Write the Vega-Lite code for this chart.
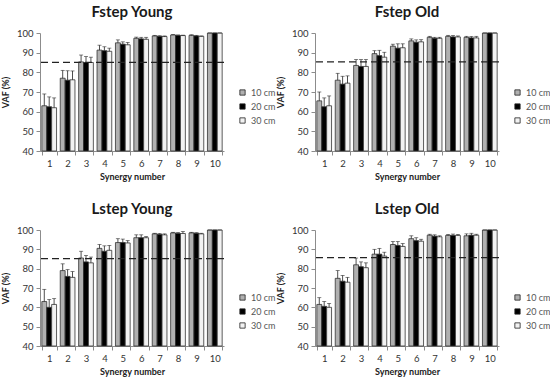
{
  "$schema": "https://vega.github.io/schema/vega-lite/v6.json",
  "background": "white",
  "padding": {"left": 1, "top": 5, "right": 0, "bottom": 0},
  "datasets": {
    "vaf": [
      {"panel": "FY", "syn": "1", "dist": "10 cm", "vaf": 63, "hi": 69},
      {"panel": "FY", "syn": "1", "dist": "20 cm", "vaf": 62.5, "hi": 67.5},
      {"panel": "FY", "syn": "1", "dist": "30 cm", "vaf": 62, "hi": 67},
      {"panel": "FY", "syn": "2", "dist": "10 cm", "vaf": 77, "hi": 81},
      {"panel": "FY", "syn": "2", "dist": "20 cm", "vaf": 76, "hi": 80.8},
      {"panel": "FY", "syn": "2", "dist": "30 cm", "vaf": 76.2, "hi": 80.7},
      {"panel": "FY", "syn": "3", "dist": "10 cm", "vaf": 85.3, "hi": 88.8},
      {"panel": "FY", "syn": "3", "dist": "20 cm", "vaf": 85, "hi": 88},
      {"panel": "FY", "syn": "3", "dist": "30 cm", "vaf": 85, "hi": 87.7},
      {"panel": "FY", "syn": "4", "dist": "10 cm", "vaf": 91.3, "hi": 93.8},
      {"panel": "FY", "syn": "4", "dist": "20 cm", "vaf": 91, "hi": 93},
      {"panel": "FY", "syn": "4", "dist": "30 cm", "vaf": 90.7, "hi": 92.3},
      {"panel": "FY", "syn": "5", "dist": "10 cm", "vaf": 95, "hi": 96.5},
      {"panel": "FY", "syn": "5", "dist": "20 cm", "vaf": 94.3, "hi": 95.5},
      {"panel": "FY", "syn": "5", "dist": "30 cm", "vaf": 94, "hi": 95.2},
      {"panel": "FY", "syn": "6", "dist": "10 cm", "vaf": 97.3, "hi": 97.9},
      {"panel": "FY", "syn": "6", "dist": "20 cm", "vaf": 97, "hi": 97.8},
      {"panel": "FY", "syn": "6", "dist": "30 cm", "vaf": 96.8, "hi": 97.8},
      {"panel": "FY", "syn": "7", "dist": "10 cm", "vaf": 98.5, "hi": 98.8},
      {"panel": "FY", "syn": "7", "dist": "20 cm", "vaf": 98.3, "hi": 98.6},
      {"panel": "FY", "syn": "7", "dist": "30 cm", "vaf": 98.2, "hi": 98.5},
      {"panel": "FY", "syn": "8", "dist": "10 cm", "vaf": 99, "hi": 99.2},
      {"panel": "FY", "syn": "8", "dist": "20 cm", "vaf": 98.8, "hi": 99},
      {"panel": "FY", "syn": "8", "dist": "30 cm", "vaf": 98.7, "hi": 98.9},
      {"panel": "FY", "syn": "9", "dist": "10 cm", "vaf": 98.8, "hi": 99.1},
      {"panel": "FY", "syn": "9", "dist": "20 cm", "vaf": 98.5, "hi": 98.8},
      {"panel": "FY", "syn": "9", "dist": "30 cm", "vaf": 98.3, "hi": 98.5},
      {"panel": "FY", "syn": "10", "dist": "10 cm", "vaf": 100, "hi": 100},
      {"panel": "FY", "syn": "10", "dist": "20 cm", "vaf": 100, "hi": 100},
      {"panel": "FY", "syn": "10", "dist": "30 cm", "vaf": 100, "hi": 100},

      {"panel": "FO", "syn": "1", "dist": "10 cm", "vaf": 65.5, "hi": 70},
      {"panel": "FO", "syn": "1", "dist": "20 cm", "vaf": 62.5, "hi": 67},
      {"panel": "FO", "syn": "1", "dist": "30 cm", "vaf": 63, "hi": 68},
      {"panel": "FO", "syn": "2", "dist": "10 cm", "vaf": 76, "hi": 79.5},
      {"panel": "FO", "syn": "2", "dist": "20 cm", "vaf": 74, "hi": 78},
      {"panel": "FO", "syn": "2", "dist": "30 cm", "vaf": 74.5, "hi": 78.2},
      {"panel": "FO", "syn": "3", "dist": "10 cm", "vaf": 83.5, "hi": 86.5},
      {"panel": "FO", "syn": "3", "dist": "20 cm", "vaf": 83, "hi": 86.5},
      {"panel": "FO", "syn": "3", "dist": "30 cm", "vaf": 83, "hi": 86.5},
      {"panel": "FO", "syn": "4", "dist": "10 cm", "vaf": 89.5, "hi": 91},
      {"panel": "FO", "syn": "4", "dist": "20 cm", "vaf": 88.5, "hi": 91.2},
      {"panel": "FO", "syn": "4", "dist": "30 cm", "vaf": 87.7, "hi": 90.2},
      {"panel": "FO", "syn": "5", "dist": "10 cm", "vaf": 93.3, "hi": 94.3},
      {"panel": "FO", "syn": "5", "dist": "20 cm", "vaf": 92.3, "hi": 94.5},
      {"panel": "FO", "syn": "5", "dist": "30 cm", "vaf": 92.5, "hi": 94.5},
      {"panel": "FO", "syn": "6", "dist": "10 cm", "vaf": 96, "hi": 97},
      {"panel": "FO", "syn": "6", "dist": "20 cm", "vaf": 95.3, "hi": 96.5},
      {"panel": "FO", "syn": "6", "dist": "30 cm", "vaf": 95.5, "hi": 96.6},
      {"panel": "FO", "syn": "7", "dist": "10 cm", "vaf": 97.8, "hi": 98.3},
      {"panel": "FO", "syn": "7", "dist": "20 cm", "vaf": 97.3, "hi": 97.8},
      {"panel": "FO", "syn": "7", "dist": "30 cm", "vaf": 97.3, "hi": 97.8},
      {"panel": "FO", "syn": "8", "dist": "10 cm", "vaf": 98.3, "hi": 98.8},
      {"panel": "FO", "syn": "8", "dist": "20 cm", "vaf": 98, "hi": 98.7},
      {"panel": "FO", "syn": "8", "dist": "30 cm", "vaf": 98, "hi": 98.5},
      {"panel": "FO", "syn": "9", "dist": "10 cm", "vaf": 97.8, "hi": 98.3},
      {"panel": "FO", "syn": "9", "dist": "20 cm", "vaf": 97.5, "hi": 98.2},
      {"panel": "FO", "syn": "9", "dist": "30 cm", "vaf": 97.5, "hi": 98.3},
      {"panel": "FO", "syn": "10", "dist": "10 cm", "vaf": 100, "hi": 100},
      {"panel": "FO", "syn": "10", "dist": "20 cm", "vaf": 100, "hi": 100},
      {"panel": "FO", "syn": "10", "dist": "30 cm", "vaf": 100, "hi": 100},

      {"panel": "LY", "syn": "1", "dist": "10 cm", "vaf": 63, "hi": 69.3},
      {"panel": "LY", "syn": "1", "dist": "20 cm", "vaf": 60, "hi": 64},
      {"panel": "LY", "syn": "1", "dist": "30 cm", "vaf": 61.5, "hi": 64.5},
      {"panel": "LY", "syn": "2", "dist": "10 cm", "vaf": 79, "hi": 82.5},
      {"panel": "LY", "syn": "2", "dist": "20 cm", "vaf": 76, "hi": 79.5},
      {"panel": "LY", "syn": "2", "dist": "30 cm", "vaf": 75.5, "hi": 78.5},
      {"panel": "LY", "syn": "3", "dist": "10 cm", "vaf": 85.5, "hi": 89},
      {"panel": "LY", "syn": "3", "dist": "20 cm", "vaf": 83.5, "hi": 86.8},
      {"panel": "LY", "syn": "3", "dist": "30 cm", "vaf": 83, "hi": 86},
      {"panel": "LY", "syn": "4", "dist": "10 cm", "vaf": 90.5, "hi": 92.5},
      {"panel": "LY", "syn": "4", "dist": "20 cm", "vaf": 89, "hi": 91.8},
      {"panel": "LY", "syn": "4", "dist": "30 cm", "vaf": 89.5, "hi": 92},
      {"panel": "LY", "syn": "5", "dist": "10 cm", "vaf": 93.5, "hi": 95.5},
      {"panel": "LY", "syn": "5", "dist": "20 cm", "vaf": 93.5, "hi": 95.3},
      {"panel": "LY", "syn": "5", "dist": "30 cm", "vaf": 93.3, "hi": 94.5},
      {"panel": "LY", "syn": "6", "dist": "10 cm", "vaf": 96, "hi": 97.5},
      {"panel": "LY", "syn": "6", "dist": "20 cm", "vaf": 96, "hi": 97.5},
      {"panel": "LY", "syn": "6", "dist": "30 cm", "vaf": 96, "hi": 96.6},
      {"panel": "LY", "syn": "7", "dist": "10 cm", "vaf": 98, "hi": 98.3},
      {"panel": "LY", "syn": "7", "dist": "20 cm", "vaf": 97.7, "hi": 98.2},
      {"panel": "LY", "syn": "7", "dist": "30 cm", "vaf": 97.5, "hi": 98},
      {"panel": "LY", "syn": "8", "dist": "10 cm", "vaf": 98.5, "hi": 98.8},
      {"panel": "LY", "syn": "8", "dist": "20 cm", "vaf": 98.2, "hi": 98.7},
      {"panel": "LY", "syn": "8", "dist": "30 cm", "vaf": 98.2, "hi": 99.2},
      {"panel": "LY", "syn": "9", "dist": "10 cm", "vaf": 98.5, "hi": 98.8},
      {"panel": "LY", "syn": "9", "dist": "20 cm", "vaf": 98.3, "hi": 98.6},
      {"panel": "LY", "syn": "9", "dist": "30 cm", "vaf": 98, "hi": 98.3},
      {"panel": "LY", "syn": "10", "dist": "10 cm", "vaf": 100, "hi": 100},
      {"panel": "LY", "syn": "10", "dist": "20 cm", "vaf": 100, "hi": 100},
      {"panel": "LY", "syn": "10", "dist": "30 cm", "vaf": 100, "hi": 100},

      {"panel": "LO", "syn": "1", "dist": "10 cm", "vaf": 61.5, "hi": 65},
      {"panel": "LO", "syn": "1", "dist": "20 cm", "vaf": 60.5, "hi": 63},
      {"panel": "LO", "syn": "1", "dist": "30 cm", "vaf": 60, "hi": 62},
      {"panel": "LO", "syn": "2", "dist": "10 cm", "vaf": 75, "hi": 79},
      {"panel": "LO", "syn": "2", "dist": "20 cm", "vaf": 73.5, "hi": 76.5},
      {"panel": "LO", "syn": "2", "dist": "30 cm", "vaf": 73, "hi": 75.5},
      {"panel": "LO", "syn": "3", "dist": "10 cm", "vaf": 82, "hi": 85.5},
      {"panel": "LO", "syn": "3", "dist": "20 cm", "vaf": 81, "hi": 83.5},
      {"panel": "LO", "syn": "3", "dist": "30 cm", "vaf": 80.5, "hi": 83},
      {"panel": "LO", "syn": "4", "dist": "10 cm", "vaf": 87.5, "hi": 90},
      {"panel": "LO", "syn": "4", "dist": "20 cm", "vaf": 87.5, "hi": 90.5},
      {"panel": "LO", "syn": "4", "dist": "30 cm", "vaf": 86.5, "hi": 88.5},
      {"panel": "LO", "syn": "5", "dist": "10 cm", "vaf": 92.5, "hi": 94},
      {"panel": "LO", "syn": "5", "dist": "20 cm", "vaf": 92, "hi": 94},
      {"panel": "LO", "syn": "5", "dist": "30 cm", "vaf": 91.5, "hi": 93},
      {"panel": "LO", "syn": "6", "dist": "10 cm", "vaf": 95.5, "hi": 97},
      {"panel": "LO", "syn": "6", "dist": "20 cm", "vaf": 94.5, "hi": 96},
      {"panel": "LO", "syn": "6", "dist": "30 cm", "vaf": 94.2, "hi": 95.2},
      {"panel": "LO", "syn": "7", "dist": "10 cm", "vaf": 97.3, "hi": 97.8},
      {"panel": "LO", "syn": "7", "dist": "20 cm", "vaf": 96.8, "hi": 97.5},
      {"panel": "LO", "syn": "7", "dist": "30 cm", "vaf": 96.5, "hi": 97},
      {"panel": "LO", "syn": "8", "dist": "10 cm", "vaf": 97.2, "hi": 97.7},
      {"panel": "LO", "syn": "8", "dist": "20 cm", "vaf": 97.2, "hi": 97.9},
      {"panel": "LO", "syn": "8", "dist": "30 cm", "vaf": 97.2, "hi": 97.7},
      {"panel": "LO", "syn": "9", "dist": "10 cm", "vaf": 97, "hi": 98},
      {"panel": "LO", "syn": "9", "dist": "20 cm", "vaf": 97.3, "hi": 98.3},
      {"panel": "LO", "syn": "9", "dist": "30 cm", "vaf": 97.3, "hi": 97.8},
      {"panel": "LO", "syn": "10", "dist": "10 cm", "vaf": 100, "hi": 100},
      {"panel": "LO", "syn": "10", "dist": "20 cm", "vaf": 100, "hi": 100},
      {"panel": "LO", "syn": "10", "dist": "30 cm", "vaf": 100, "hi": 100}
    ]
  },
  "vconcat": [
    {
      "resolve": {"scale": {"fill": "independent"}, "legend": {"fill": "independent"}},
      "bounds": "flush",
      "spacing": 91,
      "hconcat": [
        {
          "title": "Fstep Young",
          "width": 184, "height": 118,
          "data": {"name": "vaf"},
          "transform": [{"filter": "datum.panel === 'FY'"}],
          "encoding": {
            "x": {"field": "syn", "type": "ordinal", "sort": ["1","2","3","4","5","6","7","8","9","10"], "title": "Synergy number", "scale": {"paddingInner": 0.2, "paddingOuter": 0.1}, "axis": {"labelAngle": 0, "tickBand": "extent"}},
            "xOffset": {"field": "dist", "type": "nominal"}
          },
          "layer": [
            {"mark": {"type": "bar", "stroke": "#333333", "strokeWidth": 0.8},
             "encoding": {
               "y": {"field": "vaf", "type": "quantitative", "scale": {"domain": [40, 100], "zero": false, "nice": false}, "title": "VAF (%)", "axis": {"tickCount": 6, "labelOverlap": false}},
               "y2": {"datum": 40},
               "fill": {"field": "dist", "type": "nominal", "scale": {"domain": ["10 cm","20 cm","30 cm"], "range": ["#b0b0b0","#000000","#f2f2f2"]}, "legend": {"title": null, "orient": "none", "legendX": 198, "legendY": 55}}
             }},
            {"mark": {"type": "rule", "color": "#222222", "strokeWidth": 0.8},
             "encoding": {"y": {"field": "vaf", "type": "quantitative"}, "y2": {"field": "hi"}}},
            {"mark": {"type": "tick", "color": "#222222", "thickness": 0.8, "size": 4, "orient": "horizontal"},
             "encoding": {"y": {"field": "hi", "type": "quantitative"}}},
            {"data": {"values": [{"t": 85.1}]}, "mark": {"type": "rule", "color": "#222222", "strokeWidth": 1.2, "strokeDash": [7, 4]},
             "encoding": {"x": null, "xOffset": null, "y": {"field": "t", "type": "quantitative"}}}
          ]
        },
        {
          "title": "Fstep Old",
          "width": 184, "height": 118,
          "data": {"name": "vaf"},
          "transform": [{"filter": "datum.panel === 'FO'"}],
          "encoding": {
            "x": {"field": "syn", "type": "ordinal", "sort": ["1","2","3","4","5","6","7","8","9","10"], "title": "Synergy number", "scale": {"paddingInner": 0.2, "paddingOuter": 0.1}, "axis": {"labelAngle": 0, "tickBand": "extent"}},
            "xOffset": {"field": "dist", "type": "nominal"}
          },
          "layer": [
            {"mark": {"type": "bar", "stroke": "#333333", "strokeWidth": 0.8},
             "encoding": {
               "y": {"field": "vaf", "type": "quantitative", "scale": {"domain": [40, 100], "zero": false, "nice": false}, "title": "VAF (%)", "axis": {"tickCount": 6, "labelOverlap": false}},
               "y2": {"datum": 40},
               "fill": {"field": "dist", "type": "nominal", "scale": {"domain": ["10 cm","20 cm","30 cm"], "range": ["#b0b0b0","#000000","#f2f2f2"]}, "legend": {"title": null, "orient": "none", "legendX": 198, "legendY": 55}}
             }},
            {"mark": {"type": "rule", "color": "#222222", "strokeWidth": 0.8},
             "encoding": {"y": {"field": "vaf", "type": "quantitative"}, "y2": {"field": "hi"}}},
            {"mark": {"type": "tick", "color": "#222222", "thickness": 0.8, "size": 4, "orient": "horizontal"},
             "encoding": {"y": {"field": "hi", "type": "quantitative"}}},
            {"data": {"values": [{"t": 85.3}]}, "mark": {"type": "rule", "color": "#222222", "strokeWidth": 1.2, "strokeDash": [7, 4]},
             "encoding": {"x": null, "xOffset": null, "y": {"field": "t", "type": "quantitative"}}}
          ]
        }
      ]
    },
    {
      "resolve": {"scale": {"fill": "independent"}, "legend": {"fill": "independent"}},
      "bounds": "flush",
      "spacing": 91,
      "hconcat": [
        {
          "title": "Lstep Young",
          "width": 184, "height": 116,
          "data": {"name": "vaf"},
          "transform": [{"filter": "datum.panel === 'LY'"}],
          "encoding": {
            "x": {"field": "syn", "type": "ordinal", "sort": ["1","2","3","4","5","6","7","8","9","10"], "title": "Synergy number", "scale": {"paddingInner": 0.2, "paddingOuter": 0.1}, "axis": {"labelAngle": 0, "tickBand": "extent"}},
            "xOffset": {"field": "dist", "type": "nominal"}
          },
          "layer": [
            {"mark": {"type": "bar", "stroke": "#333333", "strokeWidth": 0.8},
             "encoding": {
               "y": {"field": "vaf", "type": "quantitative", "scale": {"domain": [40, 100], "zero": false, "nice": false}, "title": "VAF (%)", "axis": {"tickCount": 6, "labelOverlap": false}},
               "y2": {"datum": 40},
               "fill": {"field": "dist", "type": "nominal", "scale": {"domain": ["10 cm","20 cm","30 cm"], "range": ["#b0b0b0","#000000","#f2f2f2"]}, "legend": {"title": null, "orient": "none", "legendX": 198, "legendY": 63}}
             }},
            {"mark": {"type": "rule", "color": "#222222", "strokeWidth": 0.8},
             "encoding": {"y": {"field": "vaf", "type": "quantitative"}, "y2": {"field": "hi"}}},
            {"mark": {"type": "tick", "color": "#222222", "thickness": 0.8, "size": 4, "orient": "horizontal"},
             "encoding": {"y": {"field": "hi", "type": "quantitative"}}},
            {"data": {"values": [{"t": 85.2}]}, "mark": {"type": "rule", "color": "#222222", "strokeWidth": 1.2, "strokeDash": [7, 4]},
             "encoding": {"x": null, "xOffset": null, "y": {"field": "t", "type": "quantitative"}}}
          ]
        },
        {
          "title": "Lstep Old",
          "width": 184, "height": 116,
          "data": {"name": "vaf"},
          "transform": [{"filter": "datum.panel === 'LO'"}],
          "encoding": {
            "x": {"field": "syn", "type": "ordinal", "sort": ["1","2","3","4","5","6","7","8","9","10"], "title": "Synergy number", "scale": {"paddingInner": 0.2, "paddingOuter": 0.1}, "axis": {"labelAngle": 0, "tickBand": "extent"}},
            "xOffset": {"field": "dist", "type": "nominal"}
          },
          "layer": [
            {"mark": {"type": "bar", "stroke": "#333333", "strokeWidth": 0.8},
             "encoding": {
               "y": {"field": "vaf", "type": "quantitative", "scale": {"domain": [40, 100], "zero": false, "nice": false}, "title": "VAF (%)", "axis": {"tickCount": 6, "labelOverlap": false}},
               "y2": {"datum": 40},
               "fill": {"field": "dist", "type": "nominal", "scale": {"domain": ["10 cm","20 cm","30 cm"], "range": ["#b0b0b0","#000000","#f2f2f2"]}, "legend": {"title": null, "orient": "none", "legendX": 198, "legendY": 63}}
             }},
            {"mark": {"type": "rule", "color": "#222222", "strokeWidth": 0.8},
             "encoding": {"y": {"field": "vaf", "type": "quantitative"}, "y2": {"field": "hi"}}},
            {"mark": {"type": "tick", "color": "#222222", "thickness": 0.8, "size": 4, "orient": "horizontal"},
             "encoding": {"y": {"field": "hi", "type": "quantitative"}}},
            {"data": {"values": [{"t": 85.7}]}, "mark": {"type": "rule", "color": "#222222", "strokeWidth": 1.2, "strokeDash": [7, 4]},
             "encoding": {"x": null, "xOffset": null, "y": {"field": "t", "type": "quantitative"}}}
          ]
        }
      ]
    }
  ],
  "config": {
    "font": "Lato",
    "view": {"stroke": null},
    "title": {"fontSize": 15, "fontWeight": "bold", "color": "#1a1a1a", "frame": "group", "anchor": "middle", "offset": 8},
    "axis": {"grid": false, "domainColor": "#8c8c8c", "tickColor": "#8c8c8c", "tickSize": 4, "labelColor": "#333333", "labelFontSize": 9.5, "titleFontSize": 9, "titleFontWeight": "bold", "titleColor": "#222222", "labelPadding": 3, "labelOverlap": false},
    "axisX": {"titlePadding": 5},
    "axisY": {"titlePadding": 6},
    "legend": {"symbolType": "square", "symbolSize": 28, "symbolStrokeColor": "#222222", "symbolStrokeWidth": 0.8, "labelFontSize": 9, "labelColor": "#555555", "rowPadding": 4, "padding": 0}
  }
}
